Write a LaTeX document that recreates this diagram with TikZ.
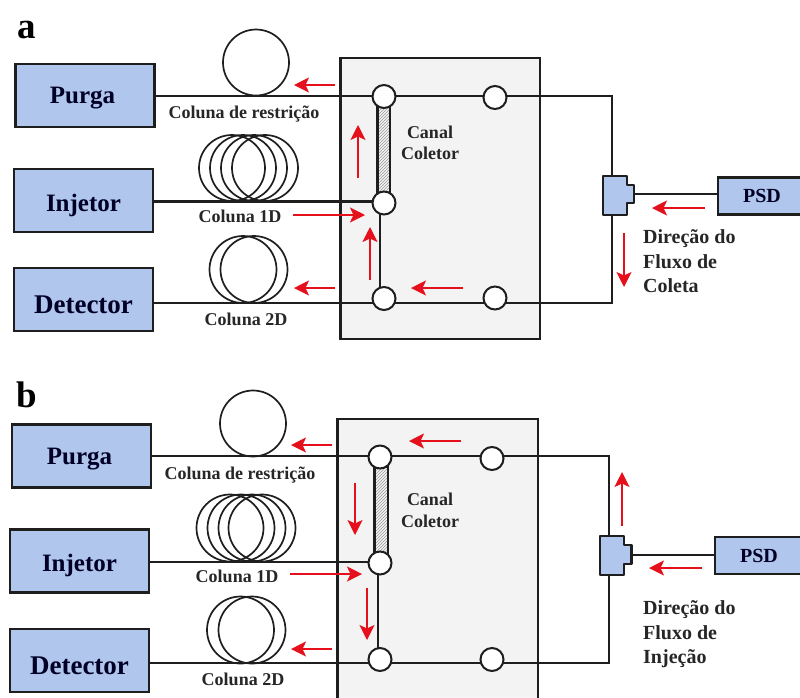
\documentclass[tikz,border=0pt]{standalone}
\usepackage{fontspec}
\setmainfont{Liberation Serif}
\usetikzlibrary{arrows.meta,patterns}
\definecolor{boxblue}{HTML}{B0C6EC}
\definecolor{panelgray}{HTML}{F3F3F3}
\definecolor{ink}{HTML}{1E1E1E}
\definecolor{flow}{HTML}{E5101C}
\newcommand{\fsz}[1]{\fontsize{#1}{#1}\selectfont\bfseries}
\tikzset{
  x=1pt,y=-1pt,
  box/.style={draw=ink,fill=boxblue,line width=2.6pt,minimum width=139pt,minimum height=63pt,inner sep=0pt,text=black!85!blue,font=\fsz{25},text height=0pt,text depth=0pt},
  psdbox/.style={draw=ink,fill=boxblue,line width=2.4pt,minimum width=88pt,minimum height=37pt,inner sep=0pt,text=black!85!blue,font=\fsz{20}},
  panel/.style={draw=ink,fill=panelgray,line width=2.2pt},
  pipe/.style={draw=ink,line width=2pt},
  thickpipe/.style={draw=ink,line width=2.8pt},
  coil/.style={draw=ink,line width=1.7pt},
  valve/.style={circle,draw=ink,fill=white,line width=2pt,minimum size=23pt,inner sep=0pt},
  trap/.style={draw=ink,line width=2.2pt,pattern=north east lines,pattern color=black!40},
  tee/.style={draw=ink,fill=boxblue,line width=2.2pt,line join=round},
  flowarrow/.style={draw=flow,line width=1.6pt,-{Stealth[length=15pt,width=15pt,inset=3.5pt]}},
  small/.style={font=\fsz{18},text=black!85,inner sep=0pt},
  note/.style={font=\fsz{20},text=black!85,inner sep=0pt,anchor=base west},
  letter/.style={font=\fsz{37},inner sep=0pt,anchor=base}
}
\begin{document}
\begin{tikzpicture}
\useasboundingbox (0,0) rectangle (800,697);
\clip (0,0) rectangle (800,697);
\fill[white] (0,0) rectangle (800,697);

% ---------- panel a
\node[letter] (la) at (27,38) {a};
\draw[panel] (340.5,58) rectangle (540,339);
\coordinate (aj1) at (384,96);
\coordinate (aj2) at (495,96);
\coordinate (aj3) at (384,201.5);
\coordinate (aj4) at (384,303);
\coordinate (aj5) at (495,303);
\coordinate (ac1) at (612,96);
\coordinate (ac2) at (612,303);
\node[box] (apurga) at (85,95.5) {\raisebox{-8pt}{Purga}\hspace*{5pt}};
\node[box] (ainj) at (83.5,200.5) {\raisebox{-10.5pt}{Injetor}};
\node[box] (adet) at (83.5,299.5) {\raisebox{-14pt}{\fsz{27}Detector}};
\node[psdbox] (apsd) at (762,196) {PSD};
\draw[pipe] (apurga.east |- aj1) -- (aj1) -- (aj2) -- (ac1) -- (ac2) -- (aj5) -- (aj4) -- (adet.east |- aj4);
\draw[thickpipe] (ainj.east |- aj3) -- (aj3);
\draw[coil] (256,62.5) circle[radius=33];
\foreach \cx in {232,243,254,265} \draw[coil] (\cx,168) circle[radius=33];
\foreach \cx in {243,254} \draw[coil] (\cx,269.5) circle[radius=33.5];
\node[small] (acr) at (244,114) {Coluna de restrição};
\node[small] (ac1d) at (240,216.5) {Coluna 1D};
\node[small] (ac2d) at (246,319.5) {Coluna 2D};
\draw[pipe] (380,203) -- (380,298);
\draw[trap] (377.5,106) rectangle (390,194);
\node[valve] (av1) at (384,96.5) {};
\node[valve] (av2) at (495,97.5) {};
\node[valve] (av3) at (384,203) {};
\node[valve] (av4) at (384,298.5) {};
\node[valve] (av5) at (495,298) {};
\node[small] (acan) at (430,132) {Canal};
\node[small] (acol) at (430,153) {Coletor};
\coordinate (atee) at (634,194);
\draw[pipe] (atee) -- (apsd.west |- atee);
\draw[tee] (603,176) -- (627,176) -- (627,185) -- (634,185) -- (634,203) -- (627,203) -- (627,215) -- (603,215) -- cycle;
\draw[flowarrow] (335,85) -- (294,85);
\draw[flowarrow] (358,178) -- (358,125);
\draw[flowarrow] (293,215) -- (365,215);
\draw[flowarrow] (370,280) -- (370,227);
\draw[flowarrow] (335,288) -- (294,288);
\draw[flowarrow] (463,288) -- (411,288);
\draw[flowarrow] (705,208) -- (652,208);
\draw[flowarrow] (624,233) -- (624,287);
\node[note] (ad1) at (643,243) {Direção do};
\node[note] (ad2) at (643,268) {Fluxo de};
\node[note] (ad3) at (643,292) {Coleta};

% ---------- panel b
\node[letter] (lb) at (27,407) {b};
\draw[panel] (337.5,419) rectangle (538,710);
\coordinate (bj1) at (380,456);
\coordinate (bj2) at (492,456);
\coordinate (bj3) at (380,562);
\coordinate (bj4) at (380,663);
\coordinate (bj5) at (492,663);
\coordinate (bc1) at (609,456);
\coordinate (bc2) at (609,663);
\node[box] (bpurga) at (81.5,456) {\raisebox{-8pt}{Purga}\hspace*{4pt}};
\node[box] (binj) at (79.5,561) {\raisebox{-10.5pt}{Injetor}};
\node[box] (bdet) at (79.5,660.5) {\raisebox{-14pt}{\fsz{27}Detector}};
\node[psdbox] (bpsd) at (759,555.5) {PSD};
\draw[pipe] (bpurga.east |- bj1) -- (bj1) -- (bj2) -- (bc1) -- (bc2) -- (bj5) -- (bj4) -- (bdet.east |- bj4);
\draw[thickpipe] (binj.east |- bj3) -- (bj3);
\draw[coil] (253,423.5) circle[radius=33];
\foreach \cx in {230,241,252,262} \draw[coil] (\cx,528) circle[radius=33.5];
\foreach \cx in {240.5,252} \draw[coil] (\cx,630) circle[radius=33.5];
\node[small] (bcr) at (240,475) {Coluna de restrição};
\node[small] (bc1d) at (237,576.5) {Coluna 1D};
\node[small] (bc2d) at (243,679.5) {Coluna 2D};
\draw[pipe] (378,563) -- (378,659);
\draw[trap] (374.5,467) rectangle (388,555);
\node[valve] (bv1) at (380,457) {};
\node[valve] (bv2) at (492,458.5) {};
\node[valve] (bv3) at (380,563) {};
\node[valve] (bv4) at (380,659.5) {};
\node[valve] (bv5) at (492,659.5) {};
\node[small] (bcan) at (430,499) {Canal};
\node[small] (bcol) at (430,521) {Coletor};
\coordinate (btee) at (631,555);
\draw[pipe] (btee) -- (bpsd.west |- btee);
\draw[tee] (600,536) -- (624,536) -- (624,545) -- (631.5,545) -- (631.5,564) -- (624,564) -- (624,575) -- (600,575) -- cycle;
\draw[flowarrow] (332,445) -- (291,445);
\draw[flowarrow] (355,483) -- (355,535);
\draw[flowarrow] (290,574) -- (362,574);
\draw[flowarrow] (367,588) -- (367,640);
\draw[flowarrow] (332,649) -- (291,649);
\draw[flowarrow] (461,441) -- (409,441);
\draw[flowarrow] (622,526) -- (622,472);
\draw[flowarrow] (702,568) -- (649,568);
\node[note] (bd1) at (643,614) {Direção do};
\node[note] (bd2) at (643,639) {Fluxo de};
\node[note] (bd3) at (643,663) {Injeção};
\end{tikzpicture}
\end{document}
